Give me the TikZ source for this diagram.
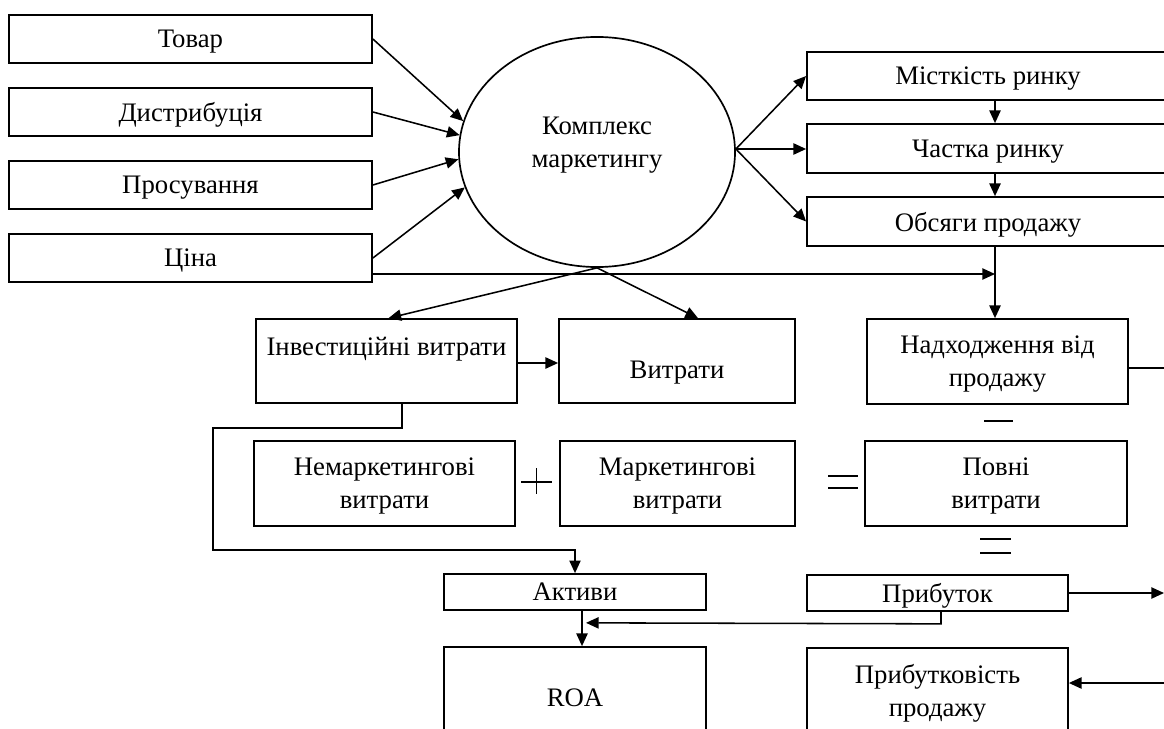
\documentclass[tikz,border=0pt]{standalone}
\usepackage{fontspec}
\setmainfont{Liberation Serif}
\usetikzlibrary{arrows.meta,shapes.geometric,calc}
\tikzset{
  box/.style={draw, line width=1.2pt, rectangle, inner sep=0pt, align=center, text depth=0pt, font=\fontsize{19}{23.5}\selectfont},
  oval/.style={draw, line width=1.2pt, ellipse, inner sep=0pt},
  txt/.style={inner sep=0pt, align=center, text depth=0pt, font=\fontsize{19}{23.5}\selectfont},
  arr/.style={line width=1.1pt, -{Triangle[length=9pt,width=8pt]}},
  ln/.style={line width=1.1pt},
  sign/.style={line width=1pt}
}
\begin{document}
\begin{tikzpicture}[x=0.025cm,y=-0.025cm]
\useasboundingbox (0,0) rectangle (1164,729);
\clip (0,0) rectangle (1164,729);
% left column
\node[box, minimum width=9.075cm, minimum height=1.2cm] (tovar) at (190.5,39) {Товар};
\node[box, minimum width=9.075cm, minimum height=1.2cm] (dist) at (190.5,112) {Дистрибуція};
\node[box, minimum width=9.075cm, minimum height=1.2cm] (pros) at (190.5,185) {Просування};
\node[box, minimum width=9.075cm, minimum height=1.2cm] (cina) at (190.5,258) {Ціна};
% ellipse
\node[oval, minimum width=6.9cm, minimum height=5.75cm] (km) at (597,152) {};
\node[txt] (kmt) at (597,142.4) {Комплекс\\маркетингу};
% right column (cut at the edge)
\node[box, minimum width=9.05cm, minimum height=1.2cm] (mist) at (988,76) {Місткість ринку};
\node[box, minimum width=9.05cm, minimum height=1.225cm] (chast) at (988,148.5) {Частка ринку};
\node[box, minimum width=9.05cm, minimum height=1.225cm] (obs) at (988,221.5) {Обсяги продажу};
% middle row
\node[box, minimum width=6.525cm, minimum height=2.1cm] (invest) at (386.5,361) {};
\node[txt] (investt) at (386.5,346.5) {Інвестиційні витрати};
\node[box, minimum width=5.9cm, minimum height=2.1cm] (vytr) at (677,361) {};
\node[txt] (vytrt) at (677,370) {Витрати};
\node[box, minimum width=6.525cm, minimum height=2.125cm] (nadh) at (997.5,361.5) {Надходження від\\продажу};
% cost row
\node[box, minimum width=6.525cm, minimum height=2.125cm] (nemark) at (384.5,483.5) {Немаркетингові\\витрати};
\node[box, minimum width=5.875cm, minimum height=2.125cm] (mark) at (677.5,483.5) {Маркетингові\\витрати};
\node[box, minimum width=6.55cm, minimum height=2.125cm] (povni) at (996,483.5) {Повні\\витрати};
% assets / profit
\node[box, minimum width=6.55cm, minimum height=0.9cm] (akt) at (575,592) {Активи};
\node[box, minimum width=6.525cm, minimum height=0.9cm] (prib) at (937.5,593) {Прибуток};
\node[box, minimum width=6.55cm, minimum height=2.55cm] (roa) at (575,698) {ROA};
\node[box, minimum width=6.525cm, minimum height=2.1cm] (pribt) at (937.5,690) {Прибутковість\\продажу};
% coordinates
\coordinate (vc) at (995,0);
\coordinate (cp) at (372,274);
\coordinate (ke) at ($(km.east)+(0,-3)$);
% inputs to ellipse
\draw[arr] (tovar.east) -- (km.167);
\draw[arr] (dist.east) -- (km.173);
\draw[arr] (pros.east) -- (km.183);
\draw[arr] (cina.east) -- (km.195);
% ellipse to right column
\draw[arr] (ke) -- (mist.west);
\draw[arr] (ke) -- (ke -| chast.west);
\draw[arr] (ke) -- (obs.west);
\draw[arr] (mist.south -| vc) -- (chast.north -| vc);
\draw[arr] (chast.south -| vc) -- (obs.north -| vc);
\draw[arr] (obs.south -| vc) -- (nadh.north -| vc);
\draw[arr] (cp) -- (cp -| vc);
% ellipse to costs
\draw[arr] (km.south) -- ($(invest.north)+(2,0)$);
\draw[arr] (km.south) -- ($(vytr.north)+(21,0)$);
\draw[arr] (invest.east |- 0,363) -- (vytr.west |- 0,363);
% investment to assets
\coordinate (i1) at ($(invest.south)+(15.5,0)$);
\draw[arr] (i1) -- ++(0,24) -| (213,550) -| (akt.north);
% assets to ROA
\coordinate (a1) at ($(akt.south)+(7,0)$);
\draw[arr] (a1) -- (a1 |- roa.north);
% profit to ROA
\coordinate (p1) at ($(prib.south)+(3.5,0)$);
\draw[arr] (p1) -- ++(0,12) -- ($(a1)+(4,12)$);
% profit out
\coordinate (pout) at (1164,593);
\draw[arr] (prib.east) -- (pout);
% revenue out
\coordinate (nout) at (1164,368);
\draw[ln] (nadh.east |- nout) -- (nout);
% into profitability
\coordinate (pin) at (1164,683);
\draw[arr] (pin) -- (pin -| pribt.east);
% signs
\draw[sign] (984,421) -- (1013,421);
\draw[sign] (521,482) -- (552,482) (536.5,468) -- (536.5,494);
\draw[sign] (828,476) -- (858,476) (828,488) -- (858,488);
\draw[sign] (980,539) -- (1011,539) (980,553) -- (1011,553);
\end{tikzpicture}
\end{document}
